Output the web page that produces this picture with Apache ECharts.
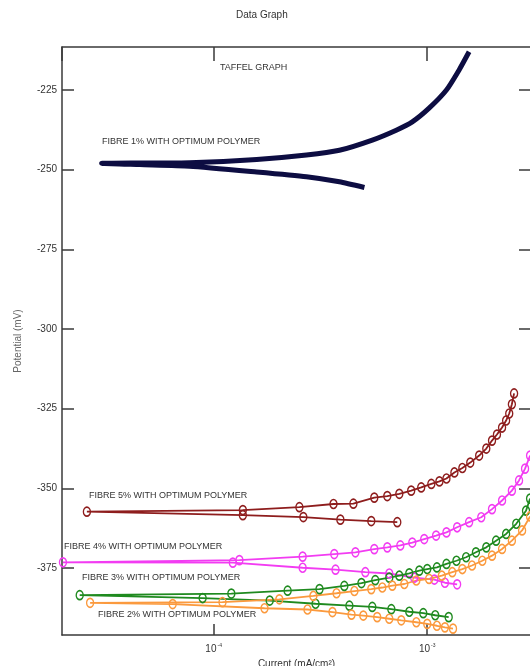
<!DOCTYPE html>
<html>
<head>
<meta charset="utf-8">
<script src="https://cdn.jsdelivr.net/npm/echarts@6/dist/echarts.min.js"></script>
<style>
html, body { margin: 0; padding: 0; background: #fff; }
#chart { width: 530px; height: 666px; }
</style>
</head>
<body>
<div id="chart"></div>
<script>
// values: current in mA/cm2, potential in mV
// each curve runs from the cathodic end, down to Ecorr, then up the anodic branch
var fibre1Current = [5.08e-4, 3.88e-4, 2.72e-4, 1.59e-4, 7.72e-5, 4.51e-5, 2.99e-5, 4.51e-5, 7.72e-5, 1.59e-4, 2.72e-4, 3.88e-4, 5.53e-4, 7.16e-4, 8.51e-4, 1.02e-3, 1.23e-3, 1.41e-3, 1.57e-3];
var fibre1Potential = [-255.6, -253.8, -252.2, -250.7, -248.9, -248.4, -248.0, -247.9, -247.8, -246.8, -245.4, -243.9, -240.7, -237.6, -235.0, -230.7, -225.0, -218.7, -213.0];

var fibre5Current = [7.24e-4, 5.47e-4, 3.92e-4, 2.63e-4, 1.37e-4, 2.55e-5, 1.37e-4, 2.52e-4, 3.64e-4, 4.51e-4, 5.65e-4, 6.50e-4, 7.40e-4, 8.41e-4, 9.37e-4, 1.045e-3, 1.14e-3, 1.23e-3, 1.34e-3, 1.46e-3, 1.59e-3, 1.75e-3, 1.89e-3, 2.01e-3, 2.12e-3, 2.24e-3, 2.34e-3, 2.42e-3, 2.49e-3, 2.55e-3];
var fibre5Potential = [-360.6, -360.25, -359.8, -359.0, -358.4, -357.3, -356.8, -355.9, -354.9, -354.8, -352.9, -352.4, -351.7, -350.7, -349.7, -348.6, -347.8, -346.9, -345.0, -343.6, -341.9, -339.7, -337.5, -335.0, -333.1, -330.9, -328.7, -326.5, -323.6, -320.2];

var fibre4Current = [1.38e-3, 1.21e-3, 1.08e-3, 8.69e-4, 6.64e-4, 5.13e-4, 3.72e-4, 2.61e-4, 1.23e-4, 1.97e-5, 1.32e-4, 2.61e-4, 3.67e-4, 4.61e-4, 5.65e-4, 6.50e-4, 7.48e-4, 8.51e-4, 9.68e-4, 1.10e-3, 1.23e-3, 1.38e-3, 1.57e-3, 1.79e-3, 2.01e-3, 2.24e-3, 2.49e-3, 2.69e-3, 2.87e-3, 3.03e-3];
var fibre4Potential = [-380.1, -379.6, -378.6, -378.0, -376.7, -376.3, -375.5, -374.9, -373.3, -373.2, -372.5, -371.4, -370.6, -370.05, -369.05, -368.5, -367.9, -367.0, -365.9, -364.8, -363.8, -362.2, -360.6, -359.05, -356.5, -353.8, -350.7, -347.5, -343.8, -339.7];

var fibre3Current = [1.26e-3, 1.09e-3, 9.58e-4, 8.24e-4, 6.79e-4, 5.53e-4, 4.32e-4, 3.00e-4, 1.83e-4, 8.88e-5, 2.36e-5, 1.21e-4, 2.22e-4, 3.13e-4, 4.09e-4, 4.92e-4, 5.71e-4, 6.64e-4, 7.40e-4, 8.24e-4, 9.18e-4, 1.0e-3, 1.11e-3, 1.23e-3, 1.37e-3, 1.52e-3, 1.69e-3, 1.89e-3, 2.10e-3, 2.34e-3, 2.61e-3, 2.90e-3, 3.03e-3];
var fibre3Potential = [-390.4, -389.8, -389.15, -388.7, -387.9, -387.2, -386.8, -386.2, -385.2, -384.4, -383.5, -383.0, -382.1, -381.6, -380.6, -379.7, -378.8, -378.0, -377.4, -376.65, -375.8, -375.3, -374.8, -373.7, -372.7, -371.6, -370.05, -368.5, -366.4, -364.3, -361.1, -357.0, -353.2];

var fibre2Current = [1.32e-3, 1.21e-3, 1.11e-3, 1.0e-3, 8.89e-4, 7.56e-4, 6.64e-4, 5.83e-4, 5.02e-4, 4.42e-4, 3.60e-4, 2.75e-4, 1.73e-4, 6.43e-5, 2.64e-5, 1.10e-4, 2.03e-4, 2.93e-4, 3.76e-4, 4.56e-4, 5.47e-4, 6.16e-4, 6.86e-4, 7.81e-4, 8.89e-4, 1.02e-3, 1.17e-3, 1.31e-3, 1.46e-3, 1.62e-3, 1.81e-3, 2.01e-3, 2.24e-3, 2.49e-3, 2.78e-3, 3.03e-3];
var fibre2Potential = [-394.0, -393.6, -393.1, -392.5, -392.0, -391.4, -390.9, -390.4, -389.9, -389.6, -388.8, -388.0, -387.6, -386.3, -385.9, -385.7, -384.8, -383.75, -382.9, -382.2, -381.6, -381.1, -380.5, -380.0, -378.9, -378.4, -377.4, -376.3, -375.3, -374.2, -372.7, -371.1, -369.0, -366.4, -363.2, -358.8];

var potentialTicks = [-375, -350, -325, -300, -275, -250, -225];
var xMin = 1.95e-5, xMax = 3.06e-3;
var yMin = -396, yMax = -211.5;

function toPairs(cur, pot) {
	var out = [];
	for (var i = 0; i < cur.length; i++) {
		out.push([cur[i], pot[i]]);
	}
	return out;
}

// hollow oval markers joined by a line, like the original plot
function circleSeries(name, cur, pot, color) {
	return {
		name: name,
		type: 'line',
		data: toPairs(cur, pot),
		symbol: 'circle',
		symbolSize: [7, 9],
		showAllSymbol: true,
		lineStyle: { color: color, width: 1.8 },
		itemStyle: { color: 'rgba(255,255,255,0)', borderColor: color, borderWidth: 1.5, opacity: 1 },
		emphasis: { disabled: true }
	};
}

var axisColor = '#3a3a3a';
var fontName = 'Liberation Sans, Arial, sans-serif';

function note(text, x, y, size) {
	return {
		type: 'text',
		left: x,
		top: y,
		style: { text: text, fill: '#333', fontSize: size || 9, fontFamily: fontName }
	};
}

var chart = echarts.init(document.getElementById('chart'));
var option = {
	backgroundColor: '#fff',
	animation: false,
	textStyle: { fontFamily: fontName },
	grid: { left: 62, top: 47, right: -1, bottom: 31, containLabel: false, outerBoundsMode: 'none' },
	xAxis: [{
		type: 'log',
		logBase: 10,
		min: xMin,
		max: xMax,
		name: 'Current (mA/cm²)',
		nameLocation: 'middle',
		nameGap: 23,
		nameTextStyle: { fontSize: 10, color: '#333' },
		axisLine: { lineStyle: { color: axisColor, width: 1.5 } },
		axisTick: { inside: true, length: 11, lineStyle: { color: axisColor, width: 1.5 } },
		minorTick: { show: false },
		splitLine: { show: false },
		axisLabel: {
			showMinLabel: false,
			showMaxLabel: false,
			margin: 8,
			formatter: function (v) {
				var e = Math.round(Math.log(v) / Math.LN10);
				return '{b|10}{s|' + e + '}';
			},
			rich: {
				b: { fontSize: 10, color: '#333' },
				s: { fontSize: 5, color: '#333', padding: [0, 0, 8, 1] }
			}
		}
	}, {
		type: 'log',
		logBase: 10,
		min: xMin,
		max: xMax,
		position: 'top',
		axisLine: { lineStyle: { color: axisColor, width: 1.5 } },
		axisTick: { inside: true, length: 14, lineStyle: { color: axisColor, width: 1.5 } },
		splitLine: { show: false },
		axisLabel: { show: false }
	}],
	yAxis: [{
		type: 'value',
		min: yMin,
		max: yMax,
		name: 'Potential (mV)',
		nameLocation: 'middle',
		nameGap: 39,
		nameTextStyle: { fontSize: 10, color: '#666' },
		axisLine: { show: true, lineStyle: { color: axisColor, width: 1.5 } },
		axisTick: { inside: true, length: 12, customValues: potentialTicks, lineStyle: { color: axisColor, width: 1.5 } },
		splitLine: { show: false },
		axisLabel: { customValues: potentialTicks, fontSize: 10, color: '#333', margin: 5 }
	}, {
		type: 'value',
		min: yMin,
		max: yMax,
		position: 'right',
		axisLine: { show: true, lineStyle: { color: axisColor, width: 1.5 } },
		axisTick: { inside: true, length: 12, customValues: potentialTicks, lineStyle: { color: axisColor, width: 1.5 } },
		splitLine: { show: false },
		axisLabel: { show: false }
	}],
	graphic: [
		note('Data Graph', 236, 10, 10),
		note('TAFFEL GRAPH', 220, 63),
		note('FIBRE 1% WITH OPTIMUM POLYMER', 102, 137),
		note('FIBRE 5% WITH OPTIMUM POLYMER', 89, 491),
		note('FIBRE 4% WITH OPTIMUM POLYMER', 64, 542),
		note('FIBRE 3% WITH OPTIMUM POLYMER', 82, 573),
		note('FIBRE 2% WITH OPTIMUM POLYMER', 98, 610)
	],
	series: [
		{
			name: 'FIBRE 1%',
			type: 'line',
			data: toPairs(fibre1Current, fibre1Potential),
			showSymbol: false,
			smooth: 0.2,
			lineStyle: { color: '#0d0d42', width: 5 },
			emphasis: { disabled: true }
		},
		circleSeries('FIBRE 5%', fibre5Current, fibre5Potential, '#8e1d1d'),
		circleSeries('FIBRE 4%', fibre4Current, fibre4Potential, '#f23cf2'),
		circleSeries('FIBRE 3%', fibre3Current, fibre3Potential, '#1f8a1f'),
		circleSeries('FIBRE 2%', fibre2Current, fibre2Potential, '#fb9a3e')
	]
};
chart.setOption(option);
</script>
</body>
</html>
